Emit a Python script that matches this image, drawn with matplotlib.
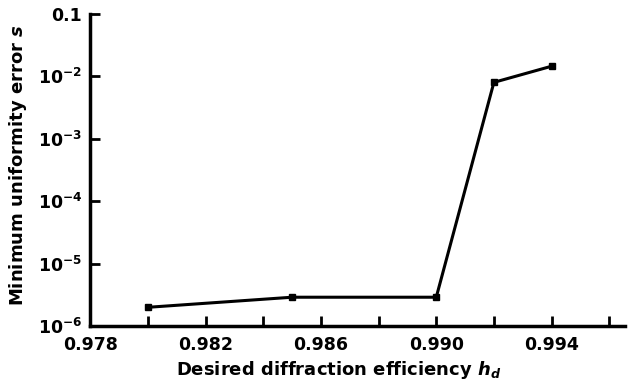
import matplotlib
matplotlib.use("Agg")
import matplotlib.pyplot as plt
import numpy as np

# Data
efficiency = [0.980, 0.985, 0.990, 0.992, 0.994]
error = [2.0e-6, 2.9e-6, 2.9e-6, 8.0e-3, 1.45e-2]

ytick_vals = [1e-6, 1e-5, 1e-4, 1e-3, 1e-2, 1e-1]
ytick_labels = ["$\\mathbf{10^{-6}}$", "$\\mathbf{10^{-5}}$", "$\\mathbf{10^{-4}}$",
                "$\\mathbf{10^{-3}}$", "$\\mathbf{10^{-2}}$", "0.1"]
xtick_vals = [0.978, 0.980, 0.982, 0.984, 0.986, 0.988, 0.990, 0.992, 0.994, 0.996]
xtick_labels = ["0.978", "", "0.982", "", "0.986", "", "0.990", "", "0.994", ""]

plt.rcParams['font.family'] = ['DejaVu Sans']
plt.rcParams['font.weight'] = 'bold'
plt.rcParams['mathtext.fontset'] = 'dejavusans'

fig = plt.figure(figsize=(6.32, 3.85), dpi=100)
ax = fig.add_axes([0.143, 0.153, 0.846, 0.811])

ax.plot(efficiency, error, color='black', linewidth=2.2,
        marker='s', markersize=5)

ax.set_yscale('log')
ax.set_ylim(1e-6, 0.1)
ax.set_xlim(0.978, 0.99655)

ax.set_yticks(ytick_vals)
ax.set_yticklabels(ytick_labels)
ax.yaxis.set_minor_locator(matplotlib.ticker.NullLocator())

ax.set_xticks(xtick_vals)
ax.set_xticklabels(xtick_labels)

ax.tick_params(axis='both', which='both', direction='in', width=2,
               length=7, labelsize=12.5, colors='black')
ax.tick_params(axis='x', pad=7)
ax.tick_params(axis='y', pad=6)

for side in ['top', 'right']:
    ax.spines[side].set_visible(False)
for side in ['left', 'bottom']:
    ax.spines[side].set_linewidth(2.5)

ax.set_xlabel("Desired diffraction efficiency $\\it{h}_{d}$", fontsize=13,
              fontweight='bold')
ax.xaxis.set_label_coords(0.464, -0.105)
ax.set_ylabel("Minimum uniformity error $\\it{s}$", fontsize=13,
              fontweight='bold')
ax.yaxis.set_label_coords(-0.115, 0.515)

fig.savefig("out.png", dpi=100)
